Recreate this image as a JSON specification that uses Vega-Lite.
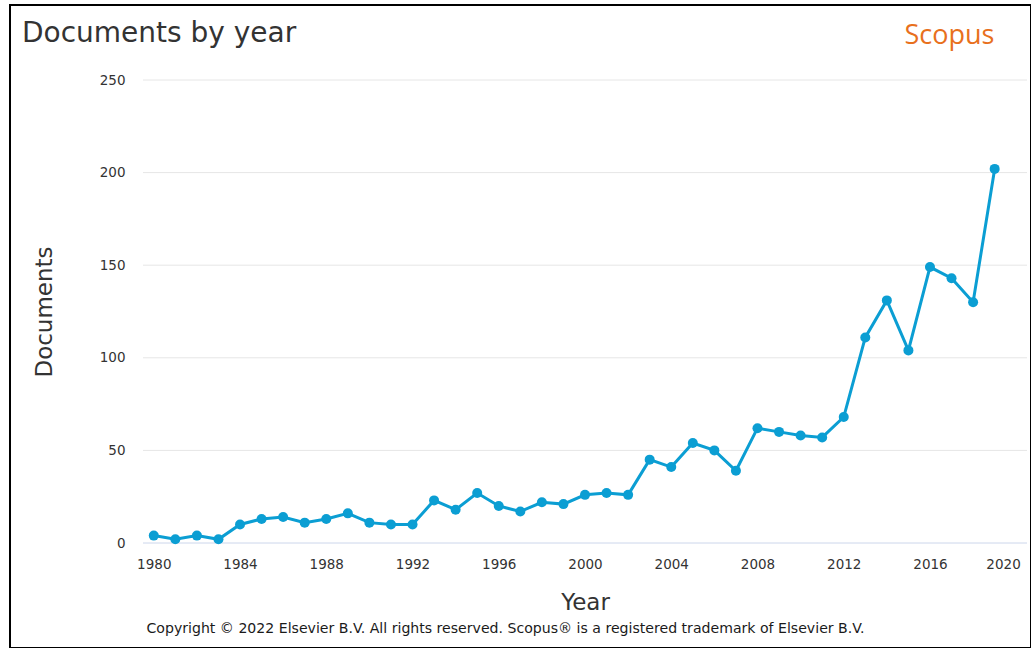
{
  "$schema": "https://vega.github.io/schema/vega-lite/v6.json",
  "width": 1021,
  "height": 643,
  "autosize": {"type": "none"},
  "padding": {"left": 10, "top": 5, "right": 0, "bottom": 0},
  "background": "white",
  "config": {
    "view": {"stroke": "black", "strokeWidth": 2},
    "font": "DejaVu Sans"
  },
  "title": {
    "text": "Documents by year",
    "anchor": "start",
    "frame": "group",
    "font": "DejaVu Sans",
    "fontSize": 28,
    "fontWeight": "normal",
    "color": "#333333",
    "baseline": "alphabetic",
    "offset": 0,
    "dx": 12,
    "dy": 65
  },
  "datasets": {
    "docs": [
      {"Year": 1980, "Documents": 4},
      {"Year": 1981, "Documents": 2},
      {"Year": 1982, "Documents": 4},
      {"Year": 1983, "Documents": 2},
      {"Year": 1984, "Documents": 10},
      {"Year": 1985, "Documents": 13},
      {"Year": 1986, "Documents": 14},
      {"Year": 1987, "Documents": 11},
      {"Year": 1988, "Documents": 13},
      {"Year": 1989, "Documents": 16},
      {"Year": 1990, "Documents": 11},
      {"Year": 1991, "Documents": 10},
      {"Year": 1992, "Documents": 10},
      {"Year": 1993, "Documents": 23},
      {"Year": 1994, "Documents": 18},
      {"Year": 1995, "Documents": 27},
      {"Year": 1996, "Documents": 20},
      {"Year": 1997, "Documents": 17},
      {"Year": 1998, "Documents": 22},
      {"Year": 1999, "Documents": 21},
      {"Year": 2000, "Documents": 26},
      {"Year": 2001, "Documents": 27},
      {"Year": 2002, "Documents": 26},
      {"Year": 2003, "Documents": 45},
      {"Year": 2004, "Documents": 41},
      {"Year": 2005, "Documents": 54},
      {"Year": 2006, "Documents": 50},
      {"Year": 2007, "Documents": 39},
      {"Year": 2008, "Documents": 62},
      {"Year": 2009, "Documents": 60},
      {"Year": 2010, "Documents": 58},
      {"Year": 2011, "Documents": 57},
      {"Year": 2012, "Documents": 68},
      {"Year": 2013, "Documents": 111},
      {"Year": 2014, "Documents": 131},
      {"Year": 2015, "Documents": 104},
      {"Year": 2016, "Documents": 149},
      {"Year": 2017, "Documents": 143},
      {"Year": 2018, "Documents": 130},
      {"Year": 2019, "Documents": 202}
    ],
    "grid": [
      {"v": 0}, {"v": 50}, {"v": 100}, {"v": 150}, {"v": 200}, {"v": 250}
    ]
  },
  "layer": [
    {
      "layer": [
        {
          "data": {"name": "grid"},
          "mark": {"type": "rule", "strokeWidth": 1},
          "encoding": {
            "y": {
              "field": "v",
              "type": "quantitative",
              "title": "Documents",
              "scale": {"domain": [0, 250], "range": [538, 75], "nice": false, "zero": false}
            },
            "x": {
              "datum": 1979.5,
              "type": "quantitative",
              "scale": {"domain": [1979.5, 2020.5], "range": [133, 1017], "nice": false, "zero": false}
            },
            "x2": {"datum": 2020.5},
            "color": {
              "condition": {"test": "datum.v === 0", "value": "#ccd6eb"},
              "value": "#e6e6e6"
            }
          }
        },
        {
          "data": {"name": "docs"},
          "mark": {
            "type": "line",
            "color": "#0b9ed3",
            "strokeWidth": 3,
            "point": {"filled": true, "size": 100, "color": "#0b9ed3", "opacity": 1}
          },
          "encoding": {
            "x": {
              "field": "Year",
              "type": "quantitative",
              "scale": {"domain": [1979.5, 2020.5], "range": [133, 1017], "nice": false, "zero": false},
              "axis": {
                "title": "Year",
                "values": [1980, 1984, 1988, 1992, 1996, 2000, 2004, 2008, 2012, 2016, 2020],
                "format": "d",
                "offset": -105,
                "grid": false,
                "domain": false,
                "ticks": false,
                "tickSize": 0,
                "labelFlush": false,
                "labelOverlap": false,
                "labelAlign": {"expr": "datum.value === 2020 ? 'right' : 'center'"},
                "labelOffset": {"expr": "datum.value === 2020 ? 4 : 0"},
                "labelPadding": 14,
                "labelFont": "DejaVu Sans",
                "labelFontSize": 13.5,
                "labelColor": "#333333",
                "titleFont": "DejaVu Sans",
                "titleFontSize": 23,
                "titleFontWeight": "normal",
                "titleColor": "#333333",
                "titleX": 575,
                "titleY": 66,
                "titleAlign": "center",
                "titleBaseline": "alphabetic"
              }
            },
            "y": {
              "field": "Documents",
              "type": "quantitative",
              "title": "Documents",
              "scale": {"domain": [0, 250], "range": [538, 75], "nice": false, "zero": false},
              "axis": {
                "values": [0, 50, 100, 150, 200, 250],
                "offset": -133,
                "grid": false,
                "domain": false,
                "ticks": false,
                "tickSize": 0,
                "labelFlush": false,
                "labelPadding": 18,
                "labelFont": "DejaVu Sans",
                "labelFontSize": 13.5,
                "labelColor": "#333333",
                "titleFont": "DejaVu Sans",
                "titleFontSize": 23,
                "titleFontWeight": "normal",
                "titleColor": "#333333",
                "titleX": -92,
                "titleY": 306.5,
                "titleAngle": -90,
                "titleAlign": "center",
                "titleBaseline": "alphabetic"
              }
            }
          }
        }
      ]
    },
    {
      "data": {"name": "docs"},
      "mark": {"type": "point", "opacity": 0},
      "encoding": {
        "x": {
          "field": "Year",
          "type": "quantitative",
          "axis": {
            "orient": "top",
            "title": "Scopus",
            "labels": false,
            "ticks": false,
            "domain": false,
            "grid": false,
            "titleFont": "Open Sans",
            "titleFontSize": 27,
            "titleFontWeight": "normal",
            "titleColor": "#e8701d",
            "titleX": 894,
            "titleY": 38,
            "titleAlign": "left",
            "titleBaseline": "alphabetic"
          }
        },
        "y": {
          "field": "Documents",
          "type": "quantitative",
          "axis": {
            "orient": "right",
            "title": "Copyright © 2022 Elsevier B.V. All rights reserved. Scopus® is a registered trademark of Elsevier B.V.",
            "labels": false,
            "ticks": false,
            "domain": false,
            "grid": false,
            "titleFont": "DejaVu Sans",
            "titleFontSize": 14.1,
            "titleFontWeight": "normal",
            "titleColor": "#1a1a1a",
            "titleAngle": 0,
            "titleX": -526,
            "titleY": 627,
            "titleAlign": "center",
            "titleBaseline": "alphabetic"
          }
        }
      }
    }
  ],
  "resolve": {
    "scale": {"x": "independent", "y": "independent"},
    "axis": {"x": "independent", "y": "independent"}
  }
}
